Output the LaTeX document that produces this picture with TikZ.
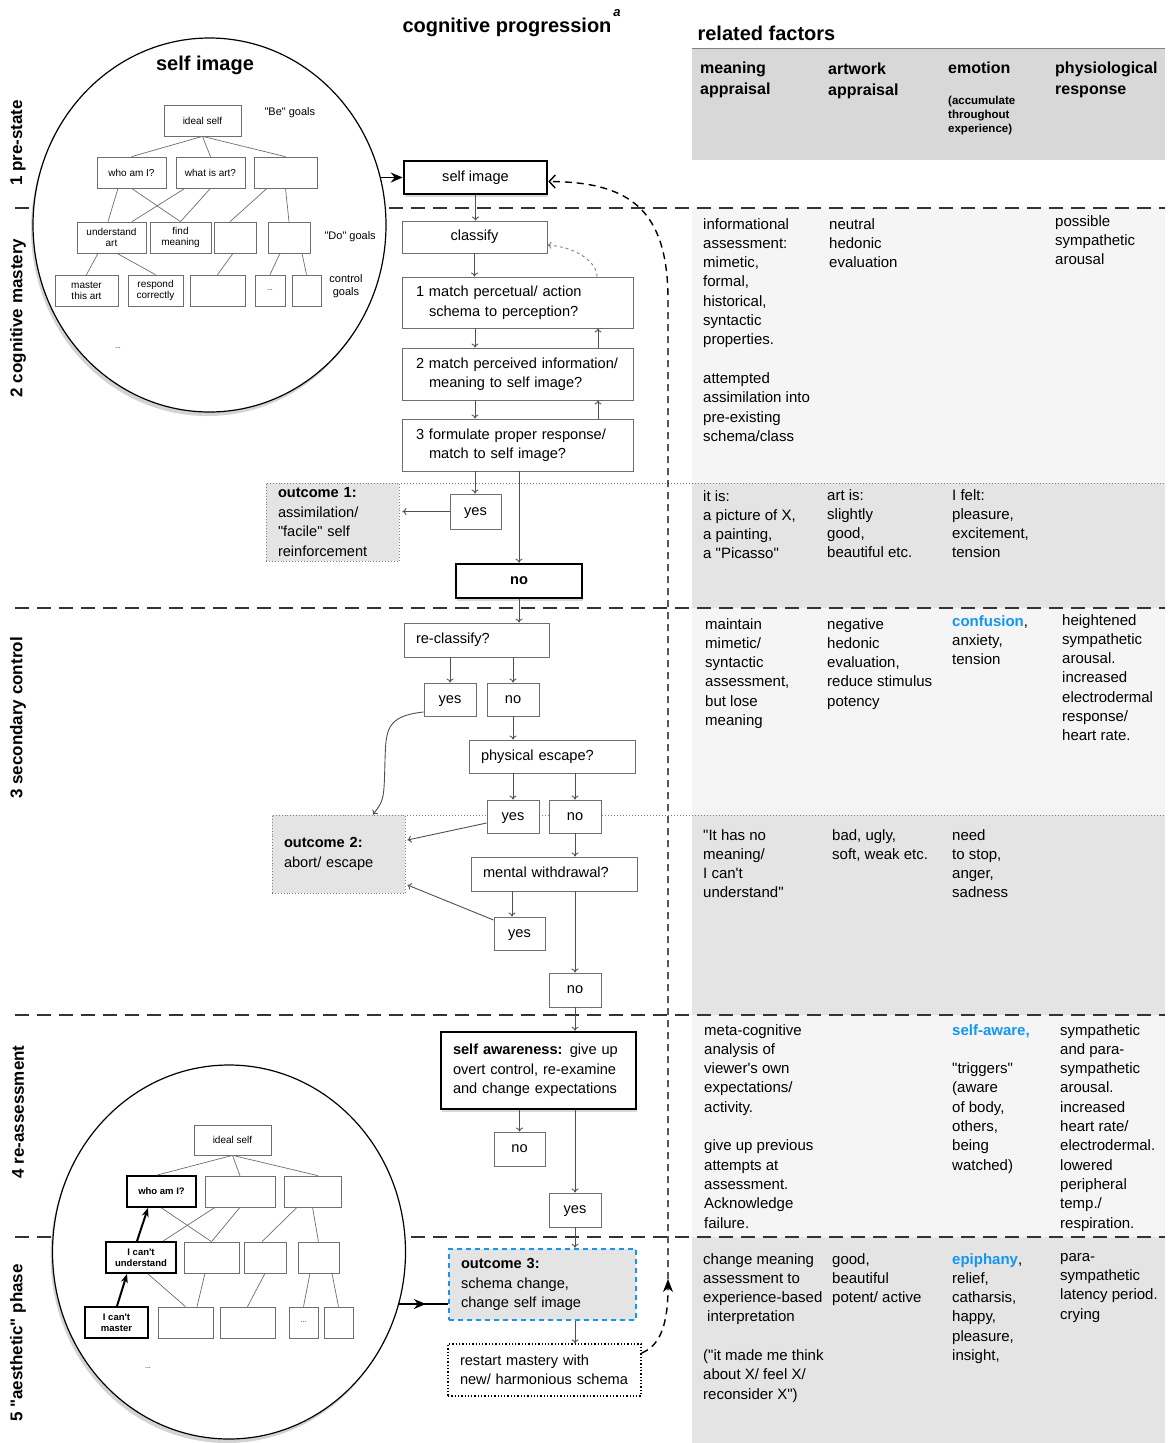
\documentclass[tikz,border=0pt]{standalone}
\usepackage{fontspec}
\setmainfont{Liberation Sans}
\usetikzlibrary{arrows.meta,shapes.geometric,shadows,decorations.markings}

\definecolor{linegray}{RGB}{110,110,110}
\definecolor{arrgray}{RGB}{80,80,80}
\definecolor{headgray}{RGB}{216,216,216}
\definecolor{paleband}{RGB}{245,245,245}
\definecolor{midband}{RGB}{228,228,228}
\definecolor{skyblue}{RGB}{20,150,240}

\newcommand{\dq}{\textquotedbl}
\newcommand{\sq}{\textquotesingle}

\tikzset{
  flow/.style={draw=linegray, line width=0.9pt, fill=white, inner sep=0pt, font=\fontsize{14.6}{19.5}\selectfont},
  oneline/.style={flow, text height=10.5pt, text depth=3pt},
  lflow/.style={flow, align=left, inner xsep=12pt},
  strong/.style={draw=black, line width=2.6pt, drop shadow={shadow xshift=1pt, shadow yshift=-3pt, opacity=.3}},
  outcome/.style={lflow, draw=gray, dotted, fill=midband},
  goal/.style={draw=linegray, line width=0.7pt, fill=white, inner sep=0pt, align=center, font=\fontsize{10}{11}\selectfont},
  bgoal/.style={goal, draw=black, line width=1.8pt, font=\fontsize{9.5}{11}\bfseries\selectfont},
  circ/.style={ellipse, draw=black, line width=1.2pt, fill=white, inner sep=0pt, minimum width=353pt, minimum height=374pt, drop shadow={shadow xshift=-2pt, shadow yshift=-4pt, opacity=.35}},
  link/.style={linegray, line width=0.7pt},
  arr/.style={arrgray, line width=0.9pt, -{To[length=4pt,width=7pt]}},
  thickarr/.style={black, line width=2pt, -{Stealth[length=9pt,width=7pt]}},
  bigarr/.style={black, line width=1.5pt, -{Stealth[length=12pt,width=10pt,inset=4pt]}},
  loopline/.style={black, line width=1.4pt, dash pattern=on 7pt off 5pt},
  cell/.style={anchor=north west, inner sep=0pt, align=left, font=\fontsize{15}{19.3}\selectfont},
  colhead/.style={cell, font=\fontsize{16}{21}\bfseries\selectfont},
  sep/.style={black!80, line width=1.8pt, dash pattern=on 14pt off 8pt},
  subsep/.style={gray, line width=1pt, dotted},
  phase/.style={rotate=90, font=\fontsize{17}{20}\bfseries\selectfont},
}

\begin{document}
\begin{tikzpicture}[x=1pt, y=-1pt]
\useasboundingbox (0,0) rectangle (1168,1443);

% related factors panel
\fill[headgray] (692,48) rectangle (1165,160);
\draw[gray, line width=1pt] (692,48) -- (1165,48);
\fill[paleband] (692,208) rectangle (1165,483);
\fill[midband] (692,483) rectangle (1165,608);
\fill[paleband] (692,608) rectangle (1165,815);
\fill[midband] (692,815) rectangle (1165,1015);
\fill[paleband] (692,1015) rectangle (1165,1237);
\fill[midband] (692,1237) rectangle (1165,1443);

\foreach \y in {208,608,1015,1237}
  \draw[sep] (15,\y) -- (1165,\y);
\draw[subsep] (266,483) -- (1165,483);
\draw[subsep] (272,815) -- (1165,815);

% titles
\node[font=\fontsize{20}{24}\bfseries\selectfont] (progtitle) at (507,27) {cognitive progression};
\node[font=\fontsize{13}{14}\bfseries\itshape\selectfont] (footmark) at (617,13) {a};
\node[anchor=west, font=\fontsize{20}{24}\bfseries\selectfont] (factors) at (694,33) {related factors};

\node[colhead] (hmeaning) at (700,62) {meaning\\appraisal};
\node[colhead] (hartwork) at (828,63) {artwork\\appraisal};
\node[colhead] (hemotion) at (948,62) {emotion};
\node[cell, font=\fontsize{11.5}{14}\bfseries\selectfont] (haccum) at (948,96) {(accumulate\\throughout\\experience)};
\node[colhead] (hphysio) at (1055,62) {physiological\\response};

\node[phase] (phase1) at (18,143) {1 pre-state};
\node[phase] (phase2) at (18,318) {2 cognitive mastery};
\node[phase] (phase3) at (18,718) {3 secondary control};
\node[phase] (phase4) at (18,1112) {4 re-assessment};
\node[phase] (phase5) at (18,1343) {5 \dq aesthetic\dq{} phase};

% self image circle
\node[circ] (selfcirc) at (209.5,225) {};
\node[font=\fontsize{20}{24}\bfseries\selectfont] (circtitle) at (205,65) {self image};
\node[goal, minimum width=77pt, minimum height=31pt] (ideal1) at (202.5,120.5) {ideal self};
\node[anchor=west, font=\fontsize{11}{13}\selectfont] (begoals) at (261,113) {\dq Be\dq{} goals};
\node[goal, minimum width=69pt, minimum height=31pt] (who1) at (131.5,172.5) {who am I?};
\node[goal, minimum width=69pt, minimum height=31pt] (art1) at (210.5,172.5) {what is art?};
\node[goal, minimum width=63pt, minimum height=31pt] (blank1a) at (285.5,172.5) {};
\node[goal, minimum width=69pt, minimum height=31pt] (und1) at (111.5,237.5) {understand\\art};
\node[goal, minimum width=61pt, minimum height=31pt] (find1) at (180.5,237.5) {find\\meaning};
\node[goal, minimum width=42pt, minimum height=31pt] (blank1b) at (235,237.5) {};
\node[goal, minimum width=42pt, minimum height=31pt] (blank1c) at (289,237.5) {};
\node[anchor=west, font=\fontsize{11}{13}\selectfont] (dogoals) at (321,237) {\dq Do\dq{} goals};
\node[goal, minimum width=63pt, minimum height=31pt] (mas1) at (86.5,290.5) {master\\this art};
\node[goal, minimum width=55pt, minimum height=31pt] (resp1) at (155.5,290.5) {respond\\correctly};
\node[goal, minimum width=55pt, minimum height=31pt] (blank1d) at (217.5,290.5) {};
\node[goal, minimum width=30pt, minimum height=31pt, font=\fontsize{7}{8}\selectfont] (dots1) at (270,290.5) {...};
\node[goal, minimum width=29pt, minimum height=31pt] (blank1e) at (306.5,290.5) {};
\node[align=center, font=\fontsize{11}{13}\selectfont] (ctrlgoals) at (346,286) {control\\goals};
\node[font=\fontsize{7}{8}\selectfont] (more1) at (118,348) {...};

\draw[link] (ideal1.south) -- (who1.north);
\draw[link] (ideal1.south) -- (art1.north);
\draw[link] (ideal1.south) -- (blank1a.north);
\draw[link] ([xshift=-13.5pt]who1.south) -- ([xshift=-3.5pt]und1.north);
\draw[link] (who1.south) -- (find1.north);
\draw[link] ([xshift=-25.5pt]art1.south) -- ([xshift=20.5pt]und1.north);
\draw[link] (art1.south) -- (find1.north);
\draw[link] ([xshift=-18.5pt]blank1a.south) -- ([xshift=-5pt]blank1b.north);
\draw[link] (blank1a.south) -- (blank1c.north);
\draw[link] ([xshift=-13.5pt]und1.south) -- (mas1.north);
\draw[link] ([xshift=5.5pt]und1.south) -- (resp1.north);
\draw[link] ([xshift=-2pt]blank1b.south) -- (blank1d.north);
\draw[link] ([xshift=-9pt]blank1c.south) -- (dots1.north);
\draw[link] ([xshift=13pt]blank1c.south) -- (blank1e.north);

% aesthetic circle
\node[circ] (aescirc) at (229,1252) {};
\node[goal, minimum width=77pt, minimum height=30pt] (ideal2) at (232.5,1140) {ideal self};
\node[bgoal, minimum width=69pt, minimum height=31pt] (who2) at (161.5,1191.5) {who am I?};
\node[goal, minimum width=70pt, minimum height=31pt] (blank2a) at (240,1191.5) {};
\node[goal, minimum width=57pt, minimum height=31pt] (blank2b) at (312.5,1191.5) {};
\node[bgoal, minimum width=70pt, minimum height=31pt] (und2) at (141,1257.5) {I can\sq t\\understand};
\node[goal, minimum width=55pt, minimum height=31pt] (blank2c) at (211.5,1257.5) {};
\node[goal, minimum width=42pt, minimum height=31pt] (blank2d) at (265,1257.5) {};
\node[goal, minimum width=41pt, minimum height=31pt] (blank2e) at (318.5,1257.5) {};
\node[bgoal, minimum width=63pt, minimum height=31pt] (mas2) at (116.5,1322.5) {I can\sq t\\master};
\node[goal, minimum width=55pt, minimum height=31pt] (blank2f) at (185.5,1322.5) {};
\node[goal, minimum width=55pt, minimum height=31pt] (blank2g) at (247.5,1322.5) {};
\node[goal, minimum width=29pt, minimum height=31pt, font=\fontsize{7}{8}\selectfont] (dots2) at (303.5,1322.5) {...};
\node[goal, minimum width=29pt, minimum height=31pt] (blank2h) at (338.5,1322.5) {};
\node[font=\fontsize{7}{8}\selectfont] (more2) at (148,1368) {...};

\draw[link] (ideal2.south) -- ([xshift=-4.5pt]who2.north);
\draw[link] (ideal2.south) -- (blank2a.north);
\draw[link] (ideal2.south) -- ([xshift=5.5pt]blank2b.north);
\draw[link] (who2.south) -- (blank2c.north);
\draw[link] ([xshift=-25pt]blank2a.south) -- ([xshift=22pt]und2.north);
\draw[link] (blank2a.south) -- (blank2c.north);
\draw[link] ([xshift=-15.5pt]blank2b.south) -- ([xshift=-3pt]blank2d.north);
\draw[link] (blank2b.south) -- (blank2e.north);
\draw[link] ([xshift=7pt]und2.south) -- (blank2f.north);
\draw[link] ([xshift=-6.5pt]blank2c.south) -- ([xshift=11.5pt]blank2f.north);
\draw[link] (blank2d.south) -- (blank2g.north);
\draw[link] ([xshift=-8.5pt]blank2e.south) -- (dots2.north);
\draw[link] ([xshift=13.5pt]blank2e.south) -- (blank2h.north);
\draw[thickarr] ([xshift=0.5pt]mas2.north) -- ([xshift=-14pt]und2.south);
\draw[thickarr] ([xshift=-4pt]und2.north) -- ([xshift=-13.5pt]who2.south);

% cognitive progression
\node[oneline, strong, minimum width=143pt, minimum height=33pt] (selfimg) at (475.5,177.5) {self image};
\node[oneline, minimum width=145pt, minimum height=32pt] (classify) at (474.5,237) {classify};
\node[lflow, text width=207pt, minimum height=51pt] (match1) at (517.5,302.5) {\hspace*{2pt}1 match percetual/ action\\\hspace*{15pt}schema to perception?};
\node[lflow, text width=207pt, minimum height=52pt] (match2) at (517.5,374) {\hspace*{2pt}2 match perceived information/\\\hspace*{15pt}meaning to self image?};
\node[lflow, text width=207pt, minimum height=52pt] (match3) at (517.5,445) {\hspace*{2pt}3 formulate proper response/\\\hspace*{15pt}match to self image?};
\node[oneline, minimum width=51pt, minimum height=35pt] (yes1) at (475.5,511.5) {yes};
\node[oneline, strong, minimum width=126pt, minimum height=34pt, font=\fontsize{14.6}{19.5}\bfseries\selectfont] (no1) at (519,581) {no};
\node[outcome, text width=109pt, minimum height=78pt] (out1) at (332.5,522) {\textbf{outcome 1:}\\assimilation/\\\dq facile\dq{} self\\reinforcement};
\node[lflow, oneline, align=left, inner xsep=12pt, text width=121pt, minimum height=34pt] (reclass) at (476.5,640) {re-classify?};
\node[oneline, minimum width=52pt, minimum height=33pt] (yes2) at (450,699.5) {yes};
\node[oneline, minimum width=52pt, minimum height=33pt] (no2) at (513,699.5) {no};
\node[lflow, oneline, align=left, inner xsep=12pt, text width=142pt, minimum height=33pt] (physical) at (552,756.5) {physical escape?};
\node[oneline, minimum width=52pt, minimum height=33pt] (yes3) at (513,816.5) {yes};
\node[oneline, minimum width=52pt, minimum height=33pt] (no3) at (575,816.5) {no};
\node[outcome, text width=109pt, minimum height=78pt] (out2) at (338.5,854) {\textbf{outcome 2:}\\abort/ escape};
\node[lflow, oneline, align=left, inner xsep=12pt, text width=142pt, minimum height=34pt] (mental) at (554,874) {mental withdrawal?};
\node[oneline, minimum width=51pt, minimum height=33pt] (yes4) at (519.5,933.5) {yes};
\node[oneline, minimum width=52pt, minimum height=34pt] (no4) at (575,990) {no};
\node[lflow, strong, text width=171pt, minimum height=77pt] (selfaware) at (538.5,1070.5) {\textbf{self awareness:} give up\\overt control, re-examine\\and change expectations};
\node[oneline, minimum width=51pt, minimum height=34pt] (no5) at (519.5,1149) {no};
\node[oneline, minimum width=52pt, minimum height=34pt] (yes5) at (575,1210) {yes};
\node[lflow, text width=163pt, minimum height=71pt, fill=midband, draw=skyblue, line width=2.6pt, dash pattern=on 5pt off 4pt] (out3) at (542.5,1284.5) {\textbf{outcome 3:}\\schema change,\\change self image};
\node[lflow, text width=169pt, minimum height=52pt, draw=black, line width=1.3pt, dotted] (restart) at (544.5,1370) {restart mastery with\\new/ harmonious schema};

\draw[arr] (selfimg.south) -- (selfimg.south |- classify.north);
\draw[arr] (classify.south) -- (classify.south |- match1.north);
\draw[arr] (475,0 |- match1.south) -- (475,0 |- match2.north);
\draw[arr] (475,0 |- match2.south) -- (475,0 |- match3.north);
\draw[arr] (598,0 |- match2.north) -- (598,0 |- match1.south);
\draw[arr] (598,0 |- match3.north) -- (598,0 |- match2.south);
\draw[arr, gray, dashed] (597,0 |- match1.north) .. controls (597,262) and (576,247) .. ([yshift=-8pt]classify.east);
\draw[arr] (475,0 |- match3.south) -- (475,0 |- yes1.north);
\draw[arr] (no1.north |- match3.south) -- (no1.north);
\draw[arr] (yes1.west) -- ([xshift=3pt]yes1.west -| out1.east);
\draw[arr] (no1.south) -- (no1.south |- reclass.north);
\draw[arr] (yes2.north |- reclass.south) -- (yes2.north);
\draw[arr] (no2.north |- reclass.south) -- (no2.north);
\draw[arr] ([yshift=-12.5pt]yes2.west) .. controls (386,716) and (386,730) .. (385,760) .. controls (384,800) .. ([xshift=34.5pt]out2.north);
\draw[arr] (no2.south) -- (no2.south |- physical.north);
\draw[arr] (yes3.north |- physical.south) -- (yes3.north);
\draw[arr] (no3.north |- physical.south) -- (no3.north);
\draw[arr] ([yshift=-6.5pt]yes3.west) -- ([xshift=2pt,yshift=14pt]out2.east);
\draw[arr] (no3.south) -- (no3.south |- mental.north);
\draw[arr] (512,0 |- mental.south) -- (512,0 |- yes4.north);
\draw[arr] (no4.north |- mental.south) -- (no4.north);
\draw[arr] ([yshift=13.5pt]yes4.west) -- ([xshift=2pt,yshift=-31pt]out2.east);
\draw[arr] (no4.south) -- (no4.south |- selfaware.north);
\draw[arr] (no5.north |- selfaware.south) -- (no5.north);
\draw[arr] (yes5.north |- selfaware.south) -- (yes5.north);
\draw[arr] (yes5.south) -- (yes5.south |- out3.north);
\draw[arr] (yes5.south |- out3.south) -- (yes5.south |- restart.north);

% circles into the flow
\draw[bigarr] (selfimg.west -| selfcirc.15) -- (selfimg.west);
\coordinate (o3in) at ([yshift=-19.5pt]out3.west);
\draw[black, line width=1.5pt, postaction={decorate, decoration={markings, mark=at position 0.55 with {\arrow{Stealth[length=12pt,width=10pt,inset=4pt]}}}}] (o3in -| aescirc.-17) -- (o3in);

% restart loop
\coordinate (looptip) at (668,1279);
\draw[loopline, -{Stealth[length=13pt,width=10pt,inset=4pt]}] ([yshift=17pt]restart.east) .. controls (662,1345) and (668,1320) .. (looptip);
\draw[loopline, -{Straight Barb[length=6pt,width=13pt]}] (looptip) -- (668,300) .. controls (668,210) and (630,182) .. ([yshift=-4pt]selfimg.east);

% related factors text
\node[cell] (assess2) at (703,218) {informational\\assessment:\\mimetic,\\formal,\\historical,\\syntactic\\properties.\\[19.3pt]attempted\\assimilation into\\pre-existing\\schema/class};
\node[cell] (artwork2) at (829,218) {neutral\\hedonic\\evaluation};
\node[cell] (physio2) at (1055,215) {possible\\sympathetic\\arousal};
\node[cell] (assess2b) at (703,490) {it is:\\a picture of X,\\a painting,\\a \dq Picasso\dq};
\node[cell] (artwork2b) at (827,489) {art is:\\slightly\\good,\\beautiful etc.};
\node[cell] (emotion2b) at (952,489) {I felt:\\pleasure,\\excitement,\\tension};

\node[cell] (assess3) at (705,618) {maintain\\mimetic/\\syntactic\\assessment,\\but lose\\meaning};
\node[cell] (artwork3) at (827,618) {negative\\hedonic\\evaluation,\\reduce stimulus\\potency};
\node[cell] (emotion3) at (952,615) {\textcolor{skyblue}{\textbf{confusion}},\\anxiety,\\tension};
\node[cell] (physio3) at (1062,614) {heightened\\sympathetic\\arousal.\\increased\\electrodermal\\response/\\heart rate.};
\node[cell] (assess3b) at (703,829) {\dq It has no\\meaning/\\I can\sq t\\understand\dq};
\node[cell] (artwork3b) at (832,829) {bad, ugly,\\soft, weak etc.};
\node[cell] (emotion3b) at (952,829) {need\\to stop,\\anger,\\sadness};

\node[cell] (assess4) at (704,1024) {meta-cognitive\\analysis of\\viewer\sq s own\\expectations/\\activity.\\[19.3pt]give up previous\\attempts at\\assessment.\\Acknowledge\\failure.};
\node[cell] (emotion4) at (952,1024) {\textcolor{skyblue}{\textbf{self-aware,}}\\[19.3pt]\dq triggers\dq\\(aware\\of body,\\others,\\being\\watched)};
\node[cell] (physio4) at (1060,1024) {sympathetic\\and para-\\sympathetic\\arousal.\\increased\\heart rate/\\electrodermal.\\lowered\\peripheral\\temp./\\respiration.};

\node[cell] (assess5) at (703,1253) {change meaning\\assessment to\\experience-based\\\hspace*{4pt}interpretation\\[19.3pt](\dq it made me think\\about X/ feel X/\\reconsider X\dq)};
\node[cell] (artwork5) at (832,1253) {good,\\beautiful\\potent/ active};
\node[cell] (emotion5) at (952,1253) {\textcolor{skyblue}{\textbf{epiphany}},\\relief,\\catharsis,\\happy,\\pleasure,\\insight,};
\node[cell] (physio5) at (1060,1253) {para-\\sympathetic\\latency period.\\crying};
\end{tikzpicture}
\end{document}
